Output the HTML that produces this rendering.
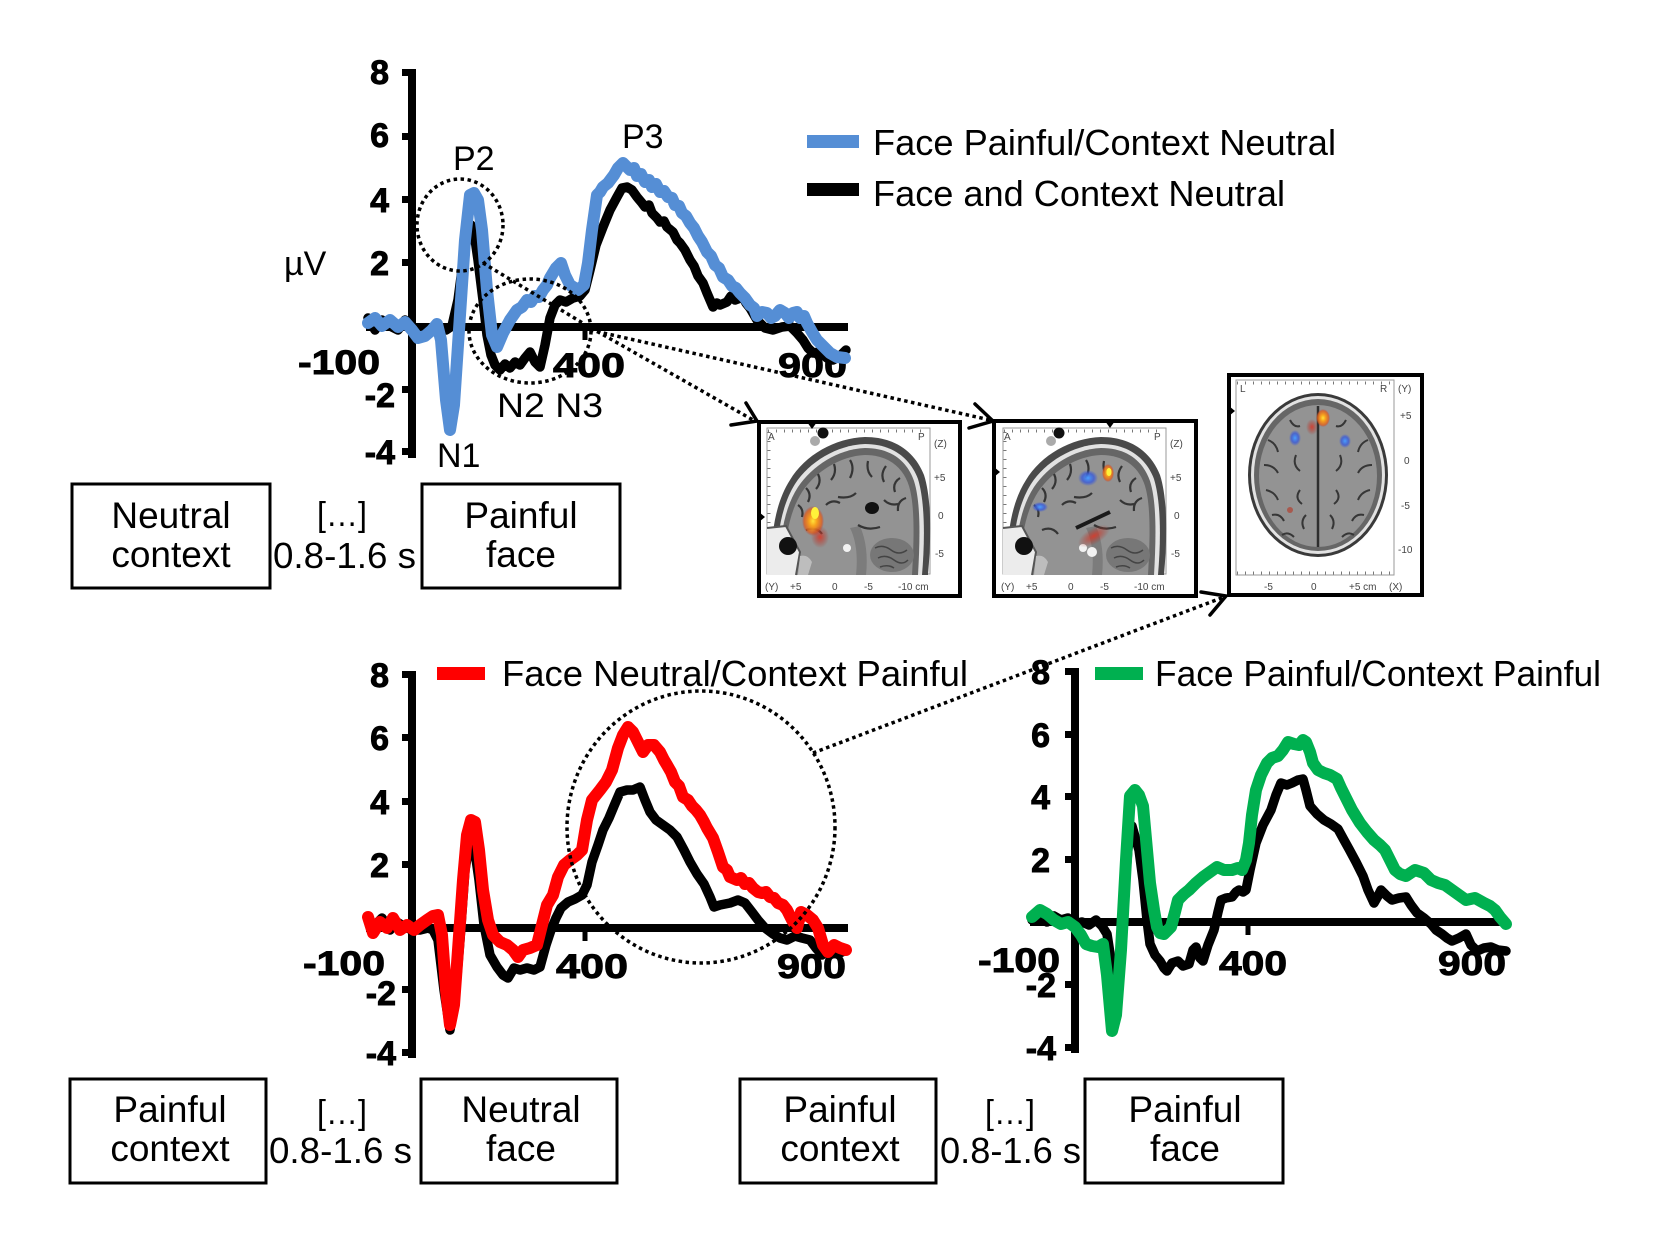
<!DOCTYPE html>
<html>
<head>
<meta charset="utf-8">
<style>
html,body{margin:0;padding:0;background:#fff;}
svg{display:block;}
.num{font-family:"Liberation Sans",sans-serif;font-weight:bold;font-size:34px;fill:#000;stroke:#000;stroke-width:0.9;}
.lbl{font-family:"Liberation Sans",sans-serif;font-size:34px;fill:#000;}
.leg{font-family:"Liberation Sans",sans-serif;font-size:36px;fill:#000;}
.box{font-family:"Liberation Sans",sans-serif;font-size:37px;fill:#000;text-anchor:middle;}
.sm{font-family:"Liberation Sans",sans-serif;font-size:10px;fill:#444;}
.dot{fill:none;stroke:#000;stroke-width:3.5;stroke-dasharray:3.5 3.5;}
.arr{fill:none;stroke:#000;stroke-width:3.5;stroke-linecap:round;}
.crv{fill:none;stroke-linejoin:round;stroke-linecap:round;}
</style>
</head>
<body>
<svg width="1663" height="1244" viewBox="0 0 1663 1244" xmlns="http://www.w3.org/2000/svg">
<defs>
  <radialGradient id="gOr" cx="50%" cy="50%" r="50%">
    <stop offset="0" stop-color="#ffe23a"/>
    <stop offset="0.35" stop-color="#f7a21d"/>
    <stop offset="0.8" stop-color="#e0601e" stop-opacity="0.8"/>
    <stop offset="1" stop-color="#c0392b" stop-opacity="0"/>
  </radialGradient>
  <radialGradient id="gRd" cx="50%" cy="50%" r="50%">
    <stop offset="0" stop-color="#d83a2a" stop-opacity="0.9"/>
    <stop offset="1" stop-color="#a83228" stop-opacity="0"/>
  </radialGradient>
  <radialGradient id="gBl" cx="50%" cy="50%" r="50%">
    <stop offset="0" stop-color="#4aa0ff"/>
    <stop offset="0.6" stop-color="#3a5ad8" stop-opacity="0.8"/>
    <stop offset="1" stop-color="#3a5ad8" stop-opacity="0"/>
  </radialGradient>
  <g id="sag">
    <rect x="767" y="428" width="163" height="146" fill="#fff" stroke="#9a9a9a" stroke-width="1"/>
    <line x1="768" y1="431" x2="928" y2="431" stroke="#777" stroke-width="3" stroke-dasharray="1 7"/>
    <line x1="769" y1="432" x2="769" y2="572" stroke="#777" stroke-width="3" stroke-dasharray="1 8"/>
    <path d="M772,575 C770,540 774,505 790,480 C805,455 835,438 865,437 C895,437 915,452 924,475 C932,500 931,540 928,575 Z" fill="#4a4a4a"/>
    <path d="M777,575 C776,541 780,508 795,484 C809,462 837,445 865,444 C892,444 910,458 918,479 C925,502 925,540 922,575 Z" fill="#e2e2e2"/>
    <path d="M780,575 C779,542 783,510 798,487 C812,466 838,449 865,448 C891,448 907,461 914,481 C921,503 920,540 918,575 Z" fill="#666"/>
    <path d="M785,575 C784,544 788,514 802,492 C815,472 840,456 865,455 C888,455 903,467 909,486 C915,506 914,540 912,575 Z" fill="#939393"/>
    <ellipse cx="892" cy="555" rx="22" ry="17" fill="#777"/>
    <path d="M875,548 q8,-4 16,2 q8,6 16,0 M878,558 q8,-4 16,2 q8,6 14,0 M880,567 q8,-3 14,1" stroke="#444" stroke-width="1.5" fill="none"/>
    <path d="M850,528 C856,540 858,556 856,575 L866,575 C868,556 866,540 860,526 Z" fill="#7c7c7c"/>
    <path d="M798,505 q6,4 4,12 M806,488 q6,6 2,14 M818,474 q4,8 -2,15 M834,464 q3,9 -3,16 M850,460 q5,8 0,18 M868,461 q-2,10 4,16 M886,466 q-6,8 -2,16 M900,478 q-8,5 -5,14 M906,498 q-9,3 -8,13 M806,530 q10,-4 16,4 M838,497 q12,2 18,-4 M858,525 q10,6 22,2 M826,505 q6,-6 14,-2 M884,500 q6,6 14,4" stroke="#353535" stroke-width="2.2" fill="none"/>
    <path d="M767,528 L786,526 L800,552 L796,575 L767,575 Z" fill="#ececec"/>
    <path d="M767,528 L786,526 L800,552 L796,575" stroke="#555" stroke-width="2" fill="none"/>
    <circle cx="788" cy="546" r="9" fill="#111"/>
    <path d="M800,556 q8,-2 12,6 l-4,13 l-10,0 Z" fill="#bdbdbd"/>
    <circle cx="847" cy="548" r="4" fill="#f2f2f2"/>
    <circle cx="815" cy="441" r="5" fill="#aaa"/>
    <circle cx="823" cy="433" r="5.5" fill="#111"/>
    <text class="sm" x="768" y="440">A</text>
    <text class="sm" x="918" y="440">P</text>
    <text class="sm" x="934" y="447">(Z)</text>
    <text class="sm" x="934" y="481">+5</text>
    <text class="sm" x="938" y="519">0</text>
    <text class="sm" x="935" y="557">-5</text>
    <text class="sm" x="765" y="590">(Y)</text>
    <text class="sm" x="790" y="590">+5</text>
    <text class="sm" x="832" y="590">0</text>
    <text class="sm" x="864" y="590">-5</text>
    <text class="sm" x="898" y="590">-10 cm</text>
  </g>
</defs>

<rect x="0" y="0" width="1663" height="1244" fill="#fff"/>

<!-- ================= TOP PLOT ================= -->
<g>
  <line x1="412" y1="69" x2="412" y2="458" stroke="#000" stroke-width="8"/>
  <g fill="#000">
    <rect x="402" y="69" width="10" height="7"/>
    <rect x="402" y="133" width="10" height="7"/>
    <rect x="402" y="196" width="10" height="7"/>
    <rect x="402" y="259" width="10" height="7"/>
    <rect x="402" y="386" width="10" height="7"/>
    <rect x="402" y="448" width="10" height="7"/>
  </g>
  <line x1="366" y1="327" x2="848" y2="327" stroke="#000" stroke-width="8"/>
  <line x1="585" y1="327" x2="585" y2="340" stroke="#000" stroke-width="5"/>
  <g class="num" text-anchor="end">
    <text x="389" y="84">8</text>
    <text x="389" y="147">6</text>
    <text x="389" y="212">4</text>
    <text x="389" y="275">2</text>
    <text x="395" y="407">-2</text>
    <text x="395" y="464">-4</text>
  </g>
  <text class="num" x="298" y="374" textLength="82" lengthAdjust="spacingAndGlyphs">-100</text>
  <text class="num" x="553" y="377" textLength="72" lengthAdjust="spacingAndGlyphs">400</text>
  <text class="num" x="778" y="377" textLength="69" lengthAdjust="spacingAndGlyphs">900</text>
  <text class="lbl" x="284" y="275">µV</text>
  <text class="lbl" x="453" y="170">P2</text>
  <text class="lbl" x="622" y="148">P3</text>
  <text class="lbl" x="497" y="417" textLength="106" lengthAdjust="spacingAndGlyphs">N2 N3</text>
  <text class="lbl" x="437" y="467">N1</text>

  <polyline class="crv" stroke="#000" stroke-width="9.5" points="368,318 375,330 382,320 390,326 398,330 405,320 412,328 420,330 427,332 434,328 440,328 446,330 452,326 458,300 463,262 467,238 471,225 474,232 478,260 483,300 487,335 491,355 495,365 500,370 505,364 510,368 515,362 520,365 525,358 530,352 535,362 540,367 545,345 550,318 555,305 560,300 566,302 573,298 580,296 585,290 590,270 596,245 603,227 610,210 617,197 622,188 627,187 632,190 637,197 642,203 645,207 649,205 652,213 657,218 660,222 664,221 667,227 673,232 677,240 680,243 685,250 690,260 694,266 698,276 703,283 707,293 713,307 717,303 720,305 727,302 731,296 735,300 743,297 746,303 750,308 757,320 765,328 773,330 782,327 790,326 797,333 803,340 808,348 813,353 820,352 827,358 833,360 840,356 846,350"/>
  <polyline class="crv" stroke="#558ed5" stroke-width="12" points="368,323 375,318 382,326 390,320 398,327 405,322 412,330 418,338 425,336 432,330 437,324 441,340 446,400 450,430 454,405 459,330 465,240 470,195 474,193 478,200 482,230 487,290 492,335 497,347 503,333 510,320 517,310 522,307 527,300 531,302 535,296 539,297 543,290 547,285 550,278 556,268 561,263 565,275 570,285 578,290 584,285 588,263 592,230 597,195 600,192 603,187 608,183 614,175 618,168 623,163 627,167 630,170 634,168 637,176 641,174 645,182 649,180 652,187 656,184 660,192 664,191 668,197 672,198 675,205 679,206 682,213 686,216 690,223 694,228 698,236 702,242 707,252 711,256 715,265 719,268 723,277 728,280 732,286 736,288 740,293 745,298 750,305 754,308 757,316 762,312 767,313 771,318 775,316 780,310 785,313 789,318 793,313 797,312 800,318 804,316 807,323 812,332 817,340 824,347 830,353 837,357 845,358"/>

  <ellipse class="dot" cx="460" cy="225" rx="43" ry="46"/>
  <ellipse class="dot" cx="530" cy="331" rx="61" ry="52"/>
  <polyline class="dot" points="483,263 586,325 753,420"/>
  <line class="dot" x1="590" y1="330" x2="990" y2="420"/>

  <rect x="807" y="135" width="52" height="13" fill="#558ed5"/>
  <rect x="807" y="183" width="52" height="13" fill="#000"/>
  <text class="leg" x="873" y="155" textLength="463" lengthAdjust="spacingAndGlyphs">Face Painful/Context Neutral</text>
  <text class="leg" x="873" y="206" textLength="412" lengthAdjust="spacingAndGlyphs">Face and Context Neutral</text>
</g>

<!-- top boxes -->
<rect x="72" y="484" width="198" height="104" fill="none" stroke="#000" stroke-width="3"/>
<text class="box" x="171" y="528">Neutral</text>
<text class="box" x="171" y="567">context</text>
<text class="lbl" x="317" y="526" font-size="28" textLength="50" lengthAdjust="spacingAndGlyphs">[…]</text>
<text class="leg" x="273" y="568" textLength="143" lengthAdjust="spacingAndGlyphs">0.8-1.6 s</text>
<rect x="422" y="484" width="198" height="104" fill="none" stroke="#000" stroke-width="3"/>
<text class="box" x="521" y="528">Painful</text>
<text class="box" x="521" y="567">face</text>

<!-- ================= BRAIN BOXES ================= -->
<rect x="759" y="422" width="201" height="174" fill="#fff" stroke="#000" stroke-width="4"/>
<use href="#sag"/>
<ellipse cx="813" cy="521" rx="11" ry="15" fill="url(#gOr)"/>
<ellipse cx="815" cy="513" rx="4" ry="6" fill="#fff23a"/>
<ellipse cx="820" cy="537" rx="9" ry="11" fill="url(#gRd)"/>
<ellipse cx="872" cy="508" rx="7" ry="6" fill="#111"/>

<rect x="994" y="421" width="202" height="175" fill="#fff" stroke="#000" stroke-width="4"/>
<use href="#sag" transform="translate(236,0)"/>
<ellipse cx="1088" cy="478" rx="10" ry="8" fill="url(#gBl)"/>
<ellipse cx="1108" cy="473" rx="6" ry="9" fill="url(#gOr)"/>
<ellipse cx="1109" cy="472" rx="2.5" ry="4" fill="#fff23a"/>
<ellipse cx="1040" cy="507" rx="8" ry="5" fill="url(#gBl)"/>
<line x1="1076" y1="528" x2="1110" y2="512" stroke="#1a1a1a" stroke-width="4"/>
<ellipse cx="1094" cy="536" rx="18" ry="8" fill="url(#gRd)" transform="rotate(-30 1094 536)"/>
<circle cx="1092" cy="552" r="5" fill="#f2f2f2"/>

<rect x="1229" y="375" width="193" height="220" fill="#fff" stroke="#000" stroke-width="4"/>
<rect x="1236" y="380" width="158" height="195" fill="#fff" stroke="#9a9a9a" stroke-width="1"/>
<line x1="1237" y1="383" x2="1392" y2="383" stroke="#777" stroke-width="3" stroke-dasharray="1 7"/>
<line x1="1237" y1="573" x2="1392" y2="573" stroke="#777" stroke-width="3" stroke-dasharray="1 7"/>
<ellipse cx="1318" cy="475" rx="70" ry="82" fill="#3a3a3a"/>
<ellipse cx="1318" cy="475" rx="67" ry="79" fill="#e2e2e2"/>
<ellipse cx="1318" cy="475" rx="64" ry="76" fill="#666"/>
<ellipse cx="1318" cy="476" rx="59" ry="71" fill="#939393"/>
<line x1="1318" y1="406" x2="1318" y2="547" stroke="#2e2e2e" stroke-width="2.5"/>
<path d="M1268,440 q8,3 10,12 M1264,465 q10,0 14,8 M1266,490 q9,2 12,10 M1272,515 q8,-2 12,6 M1282,535 q6,-4 12,2 M1290,420 q4,8 10,6 M1296,455 q-4,10 4,16 M1300,490 q-6,8 2,14 M1368,440 q-8,3 -10,12 M1372,465 q-10,0 -14,8 M1370,490 q-9,2 -12,10 M1364,515 q-8,-2 -12,6 M1354,535 q-6,-4 -12,2 M1346,420 q-4,8 -10,6 M1340,455 q4,10 -4,16 M1336,490 q6,8 -2,14 M1306,515 q-6,6 -2,14 M1330,515 q6,6 2,14" stroke="#363636" stroke-width="2" fill="none"/>
<ellipse cx="1323" cy="418" rx="7" ry="9" fill="url(#gOr)"/>
<ellipse cx="1312" cy="427" rx="6" ry="8" fill="url(#gRd)"/>
<ellipse cx="1295" cy="438" rx="6" ry="8" fill="url(#gBl)"/>
<ellipse cx="1345" cy="441" rx="6" ry="7" fill="url(#gBl)"/>
<circle cx="1290" cy="510" r="3" fill="#b04030" opacity="0.7"/>
<text class="sm" x="1240" y="392">L</text>
<text class="sm" x="1380" y="392">R</text>
<text class="sm" x="1398" y="392">(Y)</text>
<text class="sm" x="1400" y="419">+5</text>
<text class="sm" x="1404" y="464">0</text>
<text class="sm" x="1401" y="509">-5</text>
<text class="sm" x="1398" y="553">-10</text>
<text class="sm" x="1264" y="590">-5</text>
<text class="sm" x="1311" y="590">0</text>
<text class="sm" x="1349" y="590">+5 cm</text>
<text class="sm" x="1389" y="590">(X)</text>
<path d="M807,422 l10,0 l-5,7 Z" fill="#000"/>
<path d="M1105,421 l10,0 l-5,7 Z" fill="#000"/>
<path d="M759,512 l6,5 l-6,5 Z" fill="#000"/>
<path d="M994,467 l6,5 l-6,5 Z" fill="#000"/>
<path d="M1229,406 l6,5 l-6,5 Z" fill="#000"/>

<!-- arrowheads -->
<polyline class="arr" points="746,403 757,421 731,425"/>
<polyline class="arr" points="975,404 993,421 969,428"/>
<polyline class="arr" points="1210,615 1226,596 1201,592"/>

<!-- ================= BOTTOM LEFT PLOT ================= -->
<g>
  <line x1="412" y1="671" x2="412" y2="1058" stroke="#000" stroke-width="8"/>
  <g fill="#000">
    <rect x="402" y="671" width="10" height="7"/>
    <rect x="402" y="734" width="10" height="7"/>
    <rect x="402" y="798" width="10" height="7"/>
    <rect x="402" y="861" width="10" height="7"/>
    <rect x="402" y="986" width="10" height="7"/>
    <rect x="402" y="1049" width="10" height="7"/>
  </g>
  <line x1="366" y1="928" x2="848" y2="928" stroke="#000" stroke-width="8"/>
  <line x1="585" y1="928" x2="585" y2="941" stroke="#000" stroke-width="5"/>
  <g class="num" text-anchor="end">
    <text x="389" y="687">8</text>
    <text x="389" y="750">6</text>
    <text x="389" y="814">4</text>
    <text x="389" y="877">2</text>
    <text x="396" y="1005">-2</text>
    <text x="396" y="1065">-4</text>
  </g>
  <text class="num" x="303" y="975" textLength="82" lengthAdjust="spacingAndGlyphs">-100</text>
  <text class="num" x="556" y="978" textLength="72" lengthAdjust="spacingAndGlyphs">400</text>
  <text class="num" x="777" y="978" textLength="69" lengthAdjust="spacingAndGlyphs">900</text>

  <polyline class="crv" stroke="#000" stroke-width="9.5" points="368,920 375,925 382,918 390,930 397,922 405,927 412,930 420,930 428,928 433,930 438,940 444,990 450,1030 455,1000 460,940 465,870 470,840 474,845 479,880 484,925 490,955 497,967 503,975 508,978 514,968 520,970 527,968 534,970 540,967 546,945 551,930 556,918 561,908 568,902 575,899 582,895 587,885 592,862 598,845 603,830 609,818 614,806 620,792 627,790 633,790 640,787 645,800 650,812 656,820 663,825 670,830 677,837 684,850 690,862 697,874 704,884 710,897 714,907 720,905 730,903 738,900 745,903 752,912 758,920 765,928 773,934 780,938 787,940 795,936 802,938 810,940 816,948 822,955 828,950 835,950 840,953 846,950"/>
  <polyline class="crv" stroke="#ff0000" stroke-width="12" points="368,917 373,933 380,922 387,928 393,918 400,930 407,925 414,930 420,925 427,920 433,916 438,915 442,935 446,990 450,1025 454,1005 458,950 463,880 467,835 471,820 475,822 479,850 483,890 488,920 493,935 500,942 507,945 513,950 518,957 523,950 530,948 537,945 542,925 547,905 553,895 558,877 564,865 570,860 577,855 582,850 587,820 592,800 600,790 606,782 612,770 618,748 623,735 628,727 633,732 638,742 643,752 648,745 654,745 660,752 664,760 667,765 671,772 675,782 679,786 683,797 688,800 692,806 696,810 700,815 704,822 707,828 713,838 718,852 723,867 727,870 730,877 737,880 741,878 745,884 749,883 753,888 758,892 762,893 766,892 770,897 774,898 778,903 783,905 787,910 792,920 797,928 801,912 807,915 813,920 818,928 823,945 828,952 834,945 840,948 846,950"/>

  <ellipse class="dot" cx="701" cy="827" rx="134" ry="136"/>
  <line class="dot" x1="813" y1="753" x2="1224" y2="597"/>

  <rect x="437" y="667" width="48" height="13" fill="#ff0000"/>
  <text class="leg" x="502" y="686" textLength="466" lengthAdjust="spacingAndGlyphs">Face Neutral/Context Painful</text>
</g>

<!-- ================= BOTTOM RIGHT PLOT ================= -->
<g>
  <line x1="1075" y1="668" x2="1075" y2="1053" stroke="#000" stroke-width="8"/>
  <g fill="#000">
    <rect x="1065" y="668" width="10" height="7"/>
    <rect x="1065" y="731" width="10" height="7"/>
    <rect x="1065" y="793" width="10" height="7"/>
    <rect x="1065" y="856" width="10" height="7"/>
    <rect x="1065" y="981" width="10" height="7"/>
    <rect x="1065" y="1044" width="10" height="7"/>
  </g>
  <line x1="1030" y1="922" x2="1508" y2="922" stroke="#000" stroke-width="8"/>
  <line x1="1248" y1="922" x2="1248" y2="935" stroke="#000" stroke-width="5"/>
  <g class="num" text-anchor="end">
    <text x="1050" y="684">8</text>
    <text x="1050" y="747">6</text>
    <text x="1050" y="809">4</text>
    <text x="1050" y="872">2</text>
    <text x="1056" y="997">-2</text>
    <text x="1056" y="1060">-4</text>
  </g>
  <text class="num" x="978" y="972" textLength="82" lengthAdjust="spacingAndGlyphs">-100</text>
  <text class="num" x="1219" y="975" textLength="68" lengthAdjust="spacingAndGlyphs">400</text>
  <text class="num" x="1438" y="975" textLength="68" lengthAdjust="spacingAndGlyphs">900</text>

  <polyline class="crv" stroke="#000" stroke-width="9.5" points="1032,920 1040,914 1047,922 1054,916 1061,920 1068,918 1075,924 1082,922 1089,925 1096,920 1102,926 1107,934 1111,960 1115,1000 1119,970 1124,900 1128,848 1132,826 1136,840 1139,850 1143,880 1147,920 1150,944 1155,955 1160,961 1164,968 1167,971 1172,963 1178,961 1183,966 1189,964 1193,950 1196,947 1200,958 1203,961 1208,945 1214,930 1218,912 1221,900 1226,898 1232,897 1236,892 1239,890 1243,892 1246,890 1250,870 1256,843 1263,825 1271,810 1276,795 1281,783 1287,785 1292,783 1298,780 1303,779 1306,790 1310,806 1317,814 1324,820 1331,824 1338,829 1344,840 1349,849 1356,862 1363,876 1368,890 1374,903 1378,896 1381,890 1387,896 1392,900 1399,898 1406,897 1411,905 1417,913 1424,918 1431,924 1436,930 1442,934 1447,938 1452,941 1459,938 1466,934 1471,945 1477,951 1484,948 1491,947 1498,950 1506,951"/>
  <polyline class="crv" stroke="#00b050" stroke-width="12" points="1032,917 1040,910 1047,914 1054,920 1061,924 1068,922 1075,927 1081,935 1086,944 1092,946 1098,947 1103,944 1107,975 1112,1031 1116,1015 1121,950 1126,860 1130,796 1135,790 1139,795 1143,806 1147,850 1150,883 1154,910 1157,927 1160,933 1164,934 1168,930 1171,927 1175,912 1178,900 1184,894 1189,890 1196,883 1203,877 1210,872 1217,867 1224,870 1232,870 1238,868 1242,870 1246,860 1249,843 1252,815 1256,790 1261,775 1267,763 1272,758 1278,756 1283,750 1288,742 1294,744 1299,745 1303,740 1306,742 1310,752 1313,763 1318,770 1324,773 1330,775 1337,779 1341,788 1345,796 1352,810 1360,823 1367,832 1374,840 1380,845 1385,850 1390,860 1395,870 1400,874 1406,876 1415,870 1424,873 1431,880 1438,883 1445,885 1452,890 1459,895 1466,900 1475,898 1484,903 1490,906 1495,910 1500,917 1506,924"/>

  <rect x="1095" y="667" width="48" height="13" fill="#00b050"/>
  <text class="leg" x="1155" y="686" textLength="446" lengthAdjust="spacingAndGlyphs">Face Painful/Context Painful</text>
</g>

<!-- bottom boxes -->
<rect x="70" y="1079" width="196" height="104" fill="none" stroke="#000" stroke-width="3"/>
<text class="box" x="170" y="1122">Painful</text>
<text class="box" x="170" y="1161">context</text>
<text class="lbl" x="317" y="1124" font-size="28" textLength="50" lengthAdjust="spacingAndGlyphs">[…]</text>
<text class="leg" x="269" y="1163" textLength="143" lengthAdjust="spacingAndGlyphs">0.8-1.6 s</text>
<rect x="421" y="1079" width="196" height="104" fill="none" stroke="#000" stroke-width="3"/>
<text class="box" x="521" y="1122">Neutral</text>
<text class="box" x="521" y="1161">face</text>

<rect x="740" y="1079" width="196" height="104" fill="none" stroke="#000" stroke-width="3"/>
<text class="box" x="840" y="1122">Painful</text>
<text class="box" x="840" y="1161">context</text>
<text class="lbl" x="985" y="1124" font-size="28" textLength="50" lengthAdjust="spacingAndGlyphs">[…]</text>
<text class="leg" x="940" y="1163" textLength="141" lengthAdjust="spacingAndGlyphs">0.8-1.6 s</text>
<rect x="1085" y="1079" width="198" height="104" fill="none" stroke="#000" stroke-width="3"/>
<text class="box" x="1185" y="1122">Painful</text>
<text class="box" x="1185" y="1161">face</text>
</svg>
</body>
</html>
